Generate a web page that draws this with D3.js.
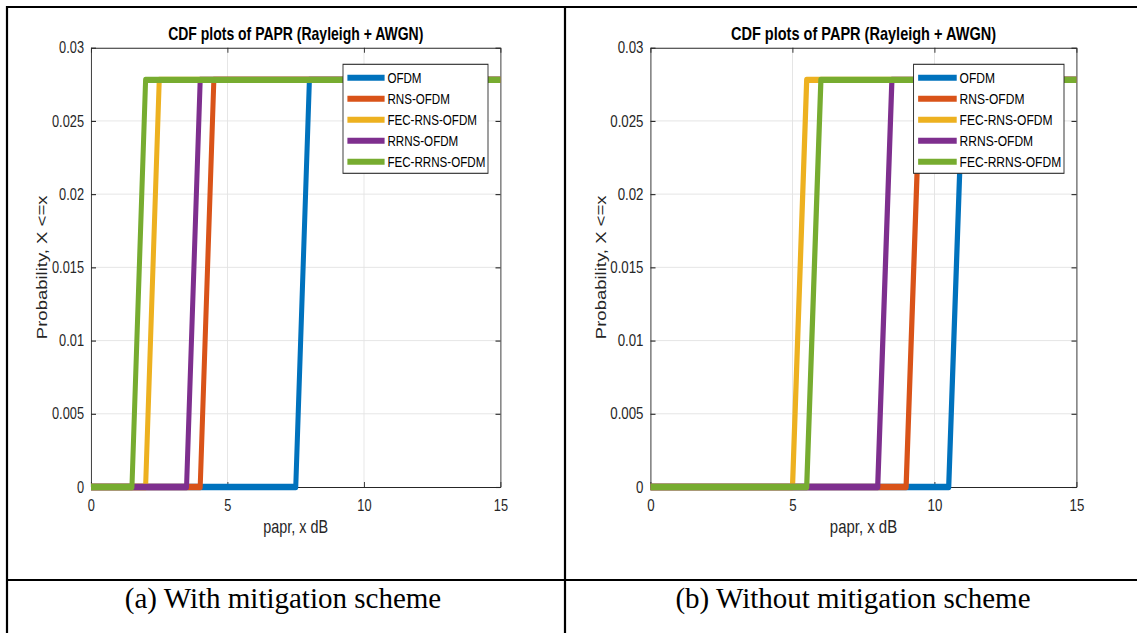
<!DOCTYPE html>
<html>
<head>
<meta charset="utf-8">
<script src="https://cdn.jsdelivr.net/npm/d3@7"></script>
<style>
  html, body { margin: 0; padding: 0; background: #fff; }
  svg { display: block; }
</style>
</head>
<body>
<svg id="chart" width="1137" height="633"></svg>
<script>
// ---------------- DATA ----------------
const chartTitle = "CDF plots of PAPR (Rayleigh + AWGN)";
const xAxisLabel = "papr, x dB";
const yAxisLabel = "Probability, X <=x";
const captions = ["(a) With mitigation scheme", "(b) Without mitigation scheme"];

const seriesNames = ["OFDM", "RNS-OFDM", "FEC-RNS-OFDM", "RRNS-OFDM", "FEC-RRNS-OFDM"];

const xTicks = [0, 5, 10, 15];
const xTickLabels = ["0", "5", "10", "15"];
const yTicks = [0, 0.005, 0.01, 0.015, 0.02, 0.025, 0.03];
const yTickLabels = ["0", "0.005", "0.01", "0.015", "0.02", "0.025", "0.03"];

// (a) With mitigation scheme: papr (dB) breakpoints and CDF values per series
const withMitigationPapr = [
  [0, 7.5, 8.0, 15],   // OFDM
  [0, 4.0, 4.5, 15],   // RNS-OFDM
  [0, 2.0, 2.5, 15],   // FEC-RNS-OFDM
  [0, 3.5, 4.0, 15],   // RRNS-OFDM
  [0, 1.5, 2.0, 15]    // FEC-RRNS-OFDM
];
const withMitigationCdf = [
  [0, 0, 0.0278, 0.0278],
  [0, 0, 0.0278, 0.0278],
  [0, 0, 0.0278, 0.0278],
  [0, 0, 0.0278, 0.0278],
  [0, 0, 0.0278, 0.0278]
];

// (b) Without mitigation scheme
const withoutMitigationPapr = [
  [0, 10.5, 11.0, 15], // OFDM
  [0, 9.0, 9.5, 15],   // RNS-OFDM
  [0, 5.0, 5.5, 15],   // FEC-RNS-OFDM
  [0, 8.0, 8.5, 15],   // RRNS-OFDM
  [0, 5.5, 6.0, 15]    // FEC-RRNS-OFDM
];
const withoutMitigationCdf = [
  [0, 0, 0.0278, 0.0278],
  [0, 0, 0.0278, 0.0278],
  [0, 0, 0.0278, 0.0278],
  [0, 0, 0.0278, 0.0278],
  [0, 0, 0.0278, 0.0278]
];

// ---------------- STYLE / LAYOUT ----------------
const colors = ["#0072BD", "#D95319", "#EDB120", "#7E2F8E", "#77AC30"];
const axisColor = "#262626";
const gridColor = "#e3e3e3";
const sansFont = "'Liberation Sans', Arial, sans-serif";
const serifFont = "'Liberation Serif', 'Times New Roman', serif";

const panels = [
  { x0: 91, x1: 500.5, hs: 0.80, papr: withMitigationPapr, cdf: withMitigationCdf, caption: captions[0], capX: 283 },
  { x0: 650.5, x1: 1076.5, hs: 0.83, papr: withoutMitigationPapr, cdf: withoutMitigationCdf, caption: captions[1], capX: 853 }
];
const plotTop = 47.7, plotBottom = 487;

const svg = d3.select("#chart");
svg.append("rect").attr("width", 1137).attr("height", 633).attr("fill", "#fff");

panels.forEach(p => {
  const hs = p.hs;
  const g = svg.append("g").attr("transform", `scale(${hs},1)`);
  const X = d3.scaleLinear().domain([0, 15]).range([p.x0 / hs, p.x1 / hs]);
  const Y = d3.scaleLinear().domain([0, 0.03]).range([plotBottom, plotTop]);

  // plot background
  g.append("rect")
    .attr("x", X(0)).attr("y", Y(0.03))
    .attr("width", X(15) - X(0)).attr("height", Y(0) - Y(0.03))
    .attr("fill", "#fff");

  // grid
  g.append("g").selectAll("line").data(xTicks.filter(d => d > 0 && d < 15)).join("line")
    .attr("x1", d => X(d)).attr("x2", d => X(d))
    .attr("y1", Y(0)).attr("y2", Y(0.03))
    .attr("stroke", gridColor).attr("stroke-width", 1.1);
  g.append("g").selectAll("line").data(yTicks.filter(d => d > 0 && d < 0.03)).join("line")
    .attr("x1", X(0)).attr("x2", X(15))
    .attr("y1", d => Y(d)).attr("y2", d => Y(d))
    .attr("stroke", gridColor).attr("stroke-width", 1);

  // axes
  const fmtX = (d, i) => xTickLabels[i];
  const fmtY = (d, i) => yTickLabels[i];
  const styleAxis = sel => {
    sel.selectAll("path.domain").attr("stroke", axisColor).attr("stroke-width", 1.1);
    sel.selectAll(".tick line").attr("stroke", axisColor).attr("stroke-width", 1.1);
    sel.selectAll(".tick text").attr("fill", axisColor)
      .style("font-family", sansFont).style("font-size", "16px");
  };
  g.append("g").attr("transform", `translate(0,${Y(0)})`)
    .call(d3.axisBottom(X).tickValues(xTicks).tickFormat(fmtX).tickSizeInner(-5).tickSizeOuter(0).tickPadding(13))
    .call(styleAxis);
  g.append("g").attr("transform", `translate(0,${Y(0.03)})`)
    .call(d3.axisTop(X).tickValues(xTicks).tickFormat("").tickSizeInner(-5).tickSizeOuter(0))
    .call(styleAxis);
  g.append("g").attr("transform", `translate(${X(0)},0)`)
    .call(d3.axisLeft(Y).tickValues(yTicks).tickFormat(fmtY).tickSizeInner(-5 / hs).tickSizeOuter(0).tickPadding(7 / hs))
    .call(styleAxis);
  g.append("g").attr("transform", `translate(${X(15)},0)`)
    .call(d3.axisRight(Y).tickValues(yTicks).tickFormat("").tickSizeInner(-5 / hs).tickSizeOuter(0))
    .call(styleAxis);

  // series
  const line = d3.line().x(d => X(d[0])).y(d => Y(d[1]));
  seriesNames.forEach((name, i) => {
    const pts = p.papr[i].map((x, j) => [x, p.cdf[i][j]]);
    g.append("path").datum(pts)
      .attr("d", line)
      .attr("fill", "none")
      .attr("stroke", colors[i])
      .attr("stroke-width", 6.3)
      .attr("stroke-linejoin", "round")
      .attr("stroke-linecap", "butt");
  });

  // legend
  const lw = 181.25;
  const lx = (p.x1 - 12.5) / hs - lw;
  const ly = 64.3, lh = 109;
  const lg = g.append("g");
  lg.append("rect").attr("x", lx).attr("y", ly).attr("width", lw).attr("height", lh)
    .attr("fill", "#fff").attr("stroke", axisColor).attr("stroke-width", 1.1);
  seriesNames.forEach((name, i) => {
    const cy = 77.7 + 21 * i;
    lg.append("line").attr("x1", lx + 5.5).attr("x2", lx + 52)
      .attr("y1", cy).attr("y2", cy)
      .attr("stroke", colors[i]).attr("stroke-width", 6);
    lg.append("text").attr("x", lx + 55.5).attr("y", cy)
      .attr("dominant-baseline", "central")
      .style("font-family", sansFont).style("font-size", "14.5px")
      .attr("fill", "#000").text(name);
  });

  // title
  g.append("text")
    .attr("x", (X(0) + X(15)) / 2).attr("y", 40)
    .attr("text-anchor", "middle")
    .style("font-family", sansFont).style("font-size", "17.5px").style("font-weight", "bold")
    .attr("fill", "#000").text(chartTitle);

  // axis labels
  g.append("text")
    .attr("x", (X(0) + X(15)) / 2).attr("y", 533.5)
    .attr("text-anchor", "middle")
    .style("font-family", sansFont).style("font-size", "18px")
    .attr("fill", axisColor).text(xAxisLabel);
  g.append("text")
    .attr("transform", `translate(${(p.x0 - 44.3) / hs},${(plotTop + plotBottom) / 2}) rotate(-90)`)
    .attr("text-anchor", "middle")
    .style("font-family", sansFont).style("font-size", "18.5px")
    .attr("fill", axisColor).text(yAxisLabel);

  // caption
  svg.append("text")
    .attr("x", p.capX).attr("y", 608)
    .attr("text-anchor", "middle")
    .style("font-family", serifFont).style("font-size", "29px")
    .attr("fill", "#000").text(p.caption);
});

// table borders
const borders = [
  [6, 7, 1137, 7],
  [7, 6, 7, 633],
  [565, 6, 565, 633],
  [6, 580, 1137, 580]
];
svg.append("g").selectAll("line").data(borders).join("line")
  .attr("x1", d => d[0]).attr("y1", d => d[1]).attr("x2", d => d[2]).attr("y2", d => d[3])
  .attr("stroke", "#000").attr("stroke-width", 2.2);
</script>
</body>
</html>
